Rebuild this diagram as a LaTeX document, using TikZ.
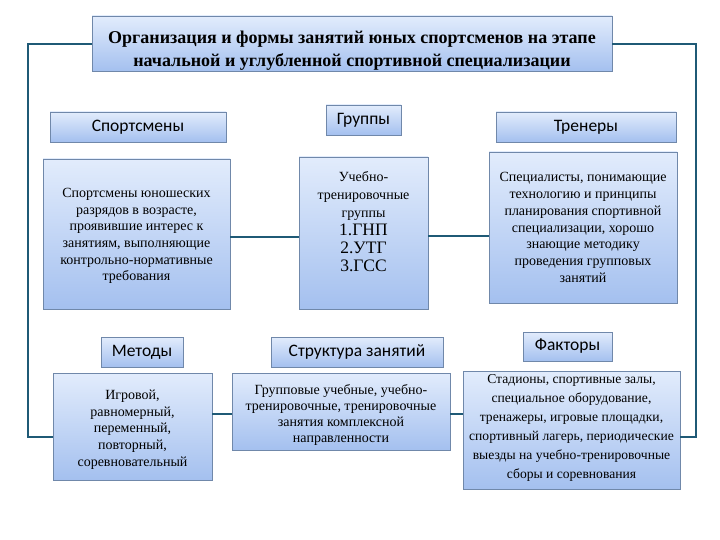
\documentclass[tikz,border=0pt]{standalone}
\usepackage{fontspec}
\setmainfont{Liberation Serif}
\newfontfamily\hdr{Carlito}
\newcommand\gnpfont{\fontsize{17.5}{18}\selectfont}
\definecolor{topc}{HTML}{E2ECFC}
\definecolor{botc}{HTML}{A4C0EF}
\definecolor{bord}{HTML}{7088AA}
\definecolor{linec}{HTML}{1F5A76}
\tikzset{
  box/.style={draw=bord, line width=0.8pt, top color=topc, bottom color=botc, inner sep=0pt, align=center},
  hbox/.style={box, font=\hdr\fontsize{17.5}{19}\selectfont},
  body/.style={align=center, font=\fontsize{14}{16.7}\selectfont, inner sep=0pt},
  conn/.style={draw=linec, line width=2.6pt},
}
\begin{document}
\begin{tikzpicture}[x=1pt,y=-1pt]
\useasboundingbox (0,0) rectangle (720,540);
% title
\node[box, minimum width=520, minimum height=55] (title) at (352,43.5) {};
\node[body, font=\bfseries\fontsize{18}{23}\selectfont] (titlet) at ([yshift=-7pt]title.center)
  {Организация и формы занятий юных спортсменов на этапе\\начальной и углубленной спортивной специализации};
% headers
\node[hbox, minimum width=176, minimum height=30] (sph) at (138,127) {Спортсмены};
\node[hbox, minimum width=75, minimum height=30] (grh) at (363.5,120) {Группы};
\node[hbox, minimum width=180, minimum height=30] (trh) at (586,127) {Тренеры};
\node[hbox, minimum width=82, minimum height=30] (meth) at (142,352) {Методы};
\node[hbox, minimum width=172, minimum height=30] (strh) at (357,352) {Структура занятий};
\node[hbox, minimum width=89, minimum height=29] (fach) at (567.5,346.5) {Факторы};
% body boxes
\node[box, minimum width=187, minimum height=150] (sp) at (136.5,234) {};
\node[body] (spt) at ([yshift=-2pt]sp.center) {Спортсмены юношеских\\разрядов в возрасте,\\проявившие интерес к\\занятиям, выполняющие\\контрольно-нормативные\\требования};
\node[box, minimum width=129, minimum height=152] (gr) at (363.5,233) {};
\node[body, anchor=north, font=\fontsize{14}{18}\selectfont] (grt) at (363.5,171) {Учебно-\\тренировочные\\группы\\\gnpfont 1.ГНП\\\gnpfont 2.УТГ\\\gnpfont 3.ГСС};
\node[box, minimum width=188, minimum height=151] (tr) at (583,227.5) {};
\node[body] (trt) at (tr.center) {Специалисты, понимающие\\технологию и принципы\\планирования спортивной\\специализации, хорошо\\знающие методику\\проведения групповых\\занятий};
\node[box, minimum width=159, minimum height=107] (met) at (132.5,426.5) {};
\node[body] (mett) at ([yshift=-3pt]met.center) {Игровой,\\равномерный,\\переменный,\\повторный,\\соревновательный};
\node[box, minimum width=218, minimum height=77] (str) at (341,411.5) {};
\node[body, font=\fontsize{14}{16}\selectfont] (strt) at ([yshift=-3pt]str.center) {Групповые учебные, учебно-\\тренировочные, тренировочные\\занятия комплексной\\направленности};
\node[box, minimum width=217, minimum height=118] (fac) at (571.5,430) {};
\node[body, font=\fontsize{13.6}{19}\selectfont] (fact) at ([yshift=2pt]fac.center) {Стадионы, спортивные залы,\\специальное оборудование,\\тренажеры, игровые площадки,\\спортивный лагерь, периодические\\выезды на учебно-тренировочные\\сборы и соревнования};
% connectors
\coordinate (lt) at (28,44);
\coordinate (lb) at (28,437);
\coordinate (rt) at (696,44);
\coordinate (rb) at (696,437);
\draw[conn] (title.west|-lt) -- (lt) -- (lb) -- (met.west|-lb);
\draw[conn] (title.east|-rt) -- (rt) -- (rb) -- (fac.east|-rb);
\coordinate (c1) at (0,237);
\coordinate (c2) at (0,236);
\coordinate (c3) at (0,414);
\draw[conn] (sp.east|-c1) -- (gr.west|-c1);
\draw[conn] (gr.east|-c2) -- (tr.west|-c2);
\draw[conn] (met.east|-c3) -- (str.west|-c3);
\draw[conn] (str.east|-c3) -- (fac.west|-c3);
\end{tikzpicture}
\end{document}
